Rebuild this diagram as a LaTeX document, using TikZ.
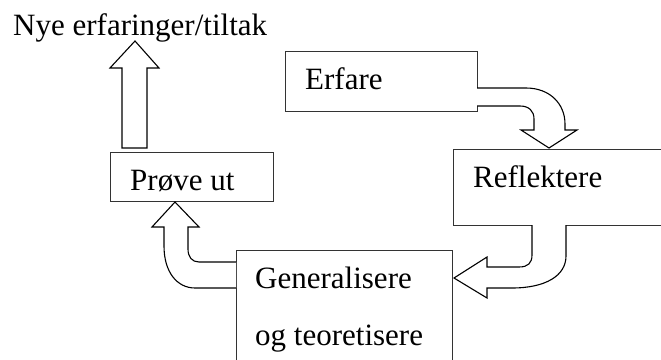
\documentclass[tikz,border=0pt]{standalone}
\usepackage{fontspec}
\setmainfont{Liberation Serif}
\begin{document}
\begin{tikzpicture}[x=1pt,y=-1pt,
  box/.style={draw=black!80, line width=0.8pt, inner sep=0pt, anchor=north west},
  lbl/.style={anchor=base west, inner sep=0pt, font=\fontsize{31}{36}\selectfont},
  blockarrow/.style={draw=black, fill=white, line width=1.1pt, line join=miter}]
\useasboundingbox (0,0) rectangle (661,359);
\clip (0,0) rectangle (661,359);

% boxes
\node[box, minimum width=192pt, minimum height=60pt]  (erfare) at (285,51) {};
\node[box, minimum width=230pt, minimum height=76pt]  (refl)   at (453,149) {};
\node[box, minimum width=163pt, minimum height=49pt]  (prove)  at (110,152) {};
\node[box, minimum width=216pt, minimum height=130pt] (gen)    at (236,250) {};

% texts
\node[lbl] (nye)   at (13,35)   {Nye erfaringer/tiltak};
\node[lbl] (terf)  at (305,89)  {Erfare};
\node[lbl] (trefl) at (473,187) {Reflektere};
\node[lbl] (tprov) at (130,190) {Prøve ut};
\node[lbl] (tgen1) at (255,288) {Generalisere};
\node[lbl] (tgen2) at (255,345) {og teoretisere};

% Prøve ut -> new experiences
\draw[blockarrow] (122,148) -- (122,68) -- (110,68) -- (135,41) -- (159,68)
  -- (147,68) -- (147,148) -- cycle;

% Erfare -> Reflektere
\draw[blockarrow] (477,88) -- (526,88) .. controls (550,88) and (565,104) .. (565,124)
  -- (565,130) -- (577,130) -- (549,148) -- (521,130) -- (534,130) -- (534,119)
  .. controls (534,111) and (529,106) .. (520,106) -- (477,106);

% Reflektere -> Generalisere
\draw[blockarrow] (532,225) -- (532,255) .. controls (532,263) and (528,267) .. (519,267)
  -- (487,267) -- (487,257) -- (454,278) -- (487,298) -- (487,288) -- (512,288)
  .. controls (545,288) and (566,276) .. (566,256) -- (566,225);

% Generalisere -> Prøve ut
\draw[blockarrow] (236,262) -- (199,262) .. controls (192,262) and (188,257) .. (188,249)
  -- (188,227) -- (199,227) -- (175,202) -- (152,227) -- (164,227) -- (164,246)
  .. controls (164,272) and (177,288) .. (195,288) -- (236,288);
\end{tikzpicture}
\end{document}
